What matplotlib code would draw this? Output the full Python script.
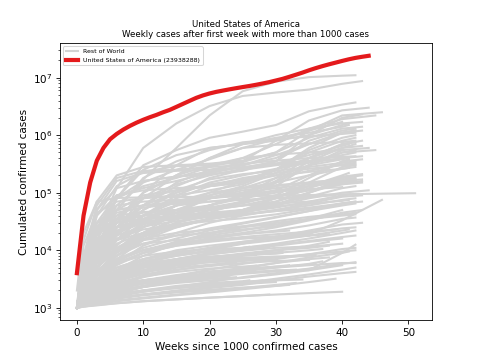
import matplotlib
matplotlib.use("Agg")
import matplotlib.pyplot as plt

# USA cumulated cases, one value per week since first week > 1000 cases
usa_label = "United States of America (23938288)"
usa_cases = [4.0e3, 4.0e4, 1.5e5, 3.6e5, 6.0e5, 8.5e5, 1.05e6, 1.25e6, 1.45e6, 1.65e6,
             1.85e6, 2.05e6, 2.25e6, 2.5e6, 2.75e6, 3.1e6, 3.5e6, 3.95e6, 4.45e6, 4.9e6,
             5.3e6, 5.65e6, 5.95e6, 6.25e6, 6.55e6, 6.85e6, 7.15e6, 7.5e6, 7.9e6, 8.35e6,
             8.9e6, 9.5e6, 1.03e7, 1.12e7, 1.22e7, 1.34e7, 1.46e7, 1.58e7, 1.7e7, 1.82e7,
             1.95e7, 2.08e7, 2.2e7, 2.3e7, 23938288]

# rest of world: values read at these weeks, last value is at the country's last week
anchor_weeks = [0, 1, 3, 6, 10, 15, 20, 25, 30, 35, 40]

high_last = [42, 43, 42, 44, 46, 43, 45, 40, 41, 42, 41, 43, 43, 42, 42, 42]
high_cases = [
    [1e3, 3e3, 1.1e4, 5e4, 1.7e5, 6e5, 2.2e6, 5.8e6, 8.5e6, 1.02e7, 1.08e7, 1.1e7],
    [1e3, 4e3, 2e4, 1.2e5, 6e5, 1.6e6, 3.2e6, 4.8e6, 5.5e6, 6.2e6, 7.8e6, 8.7e6],
    [1e3, 2.5e3, 1e4, 8e4, 3e5, 5.5e5, 9e5, 1.15e6, 1.5e6, 2.6e6, 3.4e6, 3.7e6],
    [1e3, 6e3, 5e4, 1.2e5, 1.6e5, 1.9e5, 2.3e5, 3.5e5, 8e5, 1.8e6, 2.7e6, 3.0e6],
    [1e3, 5e3, 4e4, 1.3e5, 2.3e5, 2.9e5, 3e5, 3.4e5, 5e5, 1.2e6, 2.2e6, 2.5e6],
    [1e3, 7e3, 5e4, 1.6e5, 2.2e5, 2.4e5, 2.5e5, 2.7e5, 3.5e5, 1e6, 2e6, 2.3e6],
    [1e3, 8e3, 6e4, 1.8e5, 2.4e5, 2.5e5, 2.8e5, 4e5, 7e5, 1.3e6, 1.9e6, 2.2e6],
    [1e3, 3e3, 1.5e4, 6e4, 1.5e5, 2.5e5, 3.8e5, 6e5, 8.5e5, 1.2e6, 1.7e6],
    [1e3, 4e3, 2e4, 8e4, 2.5e5, 4.5e5, 6e5, 7e5, 8e5, 1e6, 1.5e6, 1.6e6],
    [1e3, 3e3, 1.2e4, 5e4, 1.8e5, 3.5e5, 5.5e5, 7.5e5, 8.5e5, 9.5e5, 1.05e6, 1.1e6],
    [1e3, 2e3, 8e3, 3e4, 1e5, 3e5, 6e5, 7e5, 9e5, 1.1e6, 1.4e6, 1.5e6],
    [1e3, 3e3, 1e4, 3.5e4, 1e5, 2e5, 4e5, 7e5, 1e6, 1.3e6, 1.6e6, 1.7e6],
    [1e3, 5e3, 3e4, 9e4, 1.2e5, 1.6e5, 2.2e5, 3e5, 4.5e5, 7e5, 1.1e6, 1.2e6],
    [1e3, 3e3, 1.5e4, 8e4, 1.6e5, 1.9e5, 2.1e5, 2.4e5, 3.5e5, 8e5, 1.2e6, 1.3e6],
    [1e3, 4e3, 2.5e4, 8e4, 1.3e5, 1.8e5, 2.8e5, 3e5, 4e5, 7e5, 1.1e6, 1.2e6],
    [1e3, 2e3, 7e3, 2.5e4, 8e4, 2e5, 4e5, 6e5, 6.8e5, 7.2e5, 7.6e5, 8e5],
]

fast_last = [43, 42, 42, 41, 42, 40, 42, 43, 42, 41, 51]
fast_cases = [
    [1e3, 1.5e4, 7e4, 2e5, 2.8e5, 3e5, 3.2e5, 3.6e5, 5e5, 9e5, 1.3e6, 1.4e6],
    [1e3, 6e3, 4e4, 9e4, 1.1e5, 1.2e5, 1.3e5, 1.5e5, 2.5e5, 5.5e5, 9e5, 1e6],
    [1e3, 5e3, 3e4, 6e4, 7e4, 7.5e4, 8e4, 9e4, 1.3e5, 3e5, 5e5, 5.5e5],
    [1e3, 4e3, 2.5e4, 5e4, 6e4, 6.5e4, 7e4, 8e4, 1.1e5, 2e5, 3.5e5, 3.8e5],
    [1e3, 1.2e4, 4.5e4, 7e4, 8e4, 9e4, 1.1e5, 1.4e5, 2.5e5, 6e5, 1.1e6, 1.2e6],
    [1e3, 5e3, 2e4, 3e4, 3.5e4, 3.8e4, 4.2e4, 5e4, 7e4, 1.2e5, 1.8e5],
    [1e3, 3e3, 1.5e4, 3e4, 4e4, 4.5e4, 5e4, 6e4, 8e4, 1.5e5, 2.8e5, 3e5],
    [1e3, 4e3, 1.8e4, 3.5e4, 4.5e4, 5e4, 5.5e4, 6.5e4, 9e4, 1.8e5, 3.5e5, 3.8e5],
    [1e3, 6e3, 2.5e4, 4e4, 4.6e4, 5e4, 6e4, 9e4, 1.8e5, 4e5, 7e5, 7.5e5],
    [1e3, 3e3, 1.2e4, 2.5e4, 3.2e4, 3.6e4, 4e4, 4.5e4, 6e4, 1e5, 1.5e5, 1.6e5],
    [2e3, 2e4, 7e4, 8.1e4, 8.3e4, 8.4e4, 8.5e4, 8.7e4, 8.9e4, 9.1e4, 9.4e4, 9.8e4],
]

mid_last = [42, 41, 43, 40, 42, 44, 42, 43, 45, 41, 39, 42, 43, 42]
mid_cases = [
    [1e3, 4e3, 2e4, 5e4, 9e4, 1.1e5, 1.3e5, 1.6e5, 2.5e5, 5e5, 8e5, 9e5],
    [1e3, 3e3, 1.2e4, 3.5e4, 8e4, 1.4e5, 2e5, 2.6e5, 3.2e5, 4.5e5, 6.5e5, 7e5],
    [1e3, 5e3, 2.5e4, 4.5e4, 5.5e4, 6.5e4, 9e4, 1.3e5, 2.2e5, 4e5, 6e5, 6.5e5],
    [1e3, 2e3, 8e3, 3e4, 1e5, 2e5, 3e5, 4e5, 4.6e5, 5e5, 5.5e5],
    [1e3, 3e3, 1e4, 2.5e4, 5e4, 1e5, 1.8e5, 2.5e5, 3e5, 3.5e5, 4.5e5, 5e5],
    [1e3, 6e3, 3e4, 5e4, 6e4, 7e4, 8e4, 1e5, 1.5e5, 3e5, 5.5e5, 6e5],
    [1e3, 2.5e3, 9e3, 3e4, 6e4, 1.5e5, 2.5e5, 3.2e5, 3.6e5, 4e5, 4.2e5, 4.3e5],
    [1e3, 3e3, 1e4, 2e4, 3.5e4, 6e4, 1e5, 1.6e5, 2.5e5, 4e5, 7e5, 8e5],
    [1e3, 4e3, 1.5e4, 2.5e4, 3e4, 3.5e4, 4.5e4, 7e4, 1.5e5, 3e5, 5e5, 5.5e5],
    [1e3, 3e3, 1.3e4, 4e4, 8e4, 1.1e5, 1.3e5, 1.5e5, 2e5, 3e5, 3.8e5, 4e5],
    [1e3, 2e3, 6e3, 2e4, 6e4, 1.3e5, 2.2e5, 2.8e5, 3.2e5, 3.6e5, 3.8e5],
    [1e3, 5e3, 2e4, 3.5e4, 4e4, 4.5e4, 6e4, 9e4, 1.6e5, 3.5e5, 6e5, 7e5],
    [1e3, 2e3, 5e3, 1.5e4, 4e4, 9e4, 1.5e5, 2e5, 2.6e5, 3.3e5, 4e5, 4.3e5],
    [1e3, 3e3, 1.2e4, 2.5e4, 3.5e4, 5e4, 8e4, 1.2e5, 1.8e5, 2.4e5, 3.1e5, 3.3e5],
]

gradual_last = [42, 41, 43, 42, 40, 42, 43, 42, 41, 42, 38, 43, 42, 40, 42]
gradual_cases = [
    [1e3, 2e3, 5e3, 1.5e4, 4e4, 8e4, 1.3e5, 1.8e5, 2.2e5, 2.6e5, 3e5, 3.1e5],
    [1e3, 2.5e3, 8e3, 2.5e4, 6e4, 1e5, 1.4e5, 1.7e5, 2e5, 2.3e5, 2.6e5, 2.7e5],
    [1e3, 1.8e3, 4e3, 1e4, 2.5e4, 5e4, 8e4, 1e5, 1.2e5, 1.4e5, 1.6e5, 1.7e5],
    [1e3, 2e3, 6e3, 1.8e4, 5e4, 1.1e5, 1.7e5, 2.1e5, 2.4e5, 2.8e5, 3.3e5, 3.5e5],
    [1e3, 2e3, 7e3, 2e4, 4e4, 7e4, 1e5, 1.2e5, 1.35e5, 1.5e5, 1.7e5],
    [1e3, 1.5e3, 3.5e3, 8e3, 1.8e4, 3.5e4, 6e4, 9e4, 1.1e5, 1.3e5, 1.5e5, 1.6e5],
    [1e3, 2.5e3, 7e3, 1.5e4, 2.8e4, 4e4, 6e4, 8e4, 1e5, 1.3e5, 1.9e5, 2.1e5],
    [1e3, 3e3, 9e3, 1.8e4, 2.6e4, 3.2e4, 3.8e4, 4.6e4, 5.5e4, 7e4, 9e4, 9.5e4],
    [1e3, 2e3, 5e3, 1.1e4, 2e4, 3e4, 4e4, 5e4, 5.8e4, 6.5e4, 7.2e4, 7.5e4],
    [1e3, 1.7e3, 4e3, 9e3, 1.7e4, 2.6e4, 3.5e4, 4.2e4, 4.8e4, 5.5e4, 6.5e4, 7e4],
    [1e3, 2.2e3, 5e3, 1e4, 1.8e4, 2.7e4, 3.5e4, 4.2e4, 4.8e4, 5.3e4, 5.6e4],
    [1e3, 1.5e3, 3e3, 6e3, 1.2e4, 2e4, 3e4, 4e4, 5e4, 6.5e4, 8.5e4, 9e4],
    [1e3, 2e3, 4.5e3, 8e3, 1.3e4, 1.8e4, 2.4e4, 3e4, 3.8e4, 4.8e4, 6e4, 6.5e4],
    [1e3, 1.6e3, 3e3, 5.5e3, 9e3, 1.4e4, 2e4, 2.6e4, 3.2e4, 3.8e4, 4.3e4],
    [1e3, 2.8e3, 8e3, 1.6e4, 2.3e4, 2.8e4, 3.2e4, 3.6e4, 4.2e4, 5.2e4, 6.5e4, 7e4],
]

lower_mid_last = [42, 41, 43, 40, 42, 46, 43, 42, 44, 39, 42, 43, 42, 36]
lower_mid_cases = [
    [1e3, 2e3, 6e3, 1.5e4, 3e4, 6e4, 9e4, 1.2e5, 1.5e5, 2e5, 2.6e5, 2.8e5],
    [1e3, 3e3, 8e3, 1.5e4, 2e4, 2.5e4, 3.5e4, 5e4, 8e4, 1.3e5, 2e5, 2.2e5],
    [1e3, 2e3, 4e3, 8e3, 1.5e4, 3e4, 5e4, 7e4, 9e4, 1.1e5, 1.4e5, 1.5e5],
    [1e3, 1.8e3, 5e3, 1.2e4, 3e4, 6e4, 8e4, 9.5e4, 1.05e5, 1.15e5, 1.25e5],
    [1e3, 3e3, 9e3, 2e4, 3e4, 3.5e4, 4e4, 4.5e4, 6e4, 1e5, 1.6e5, 1.8e5],
    [1e3, 2e3, 4e3, 7e3, 1e4, 1.3e4, 1.5e4, 1.6e4, 1.7e4, 1.9e4, 3.3e4, 7.5e4],
    [1e3, 2.5e3, 7e3, 1.5e4, 2.5e4, 4e4, 5.5e4, 7e4, 8.5e4, 1.1e5, 1.4e5, 1.6e5],
    [1e3, 1.5e3, 3e3, 7e3, 1.5e4, 2.5e4, 3.5e4, 5e4, 6.5e4, 8.5e4, 1.2e5, 1.3e5],
    [1e3, 4e3, 1.3e4, 2.5e4, 3.5e4, 4e4, 4.5e4, 5e4, 6e4, 8e4, 1e5, 1.1e5],
    [1e3, 2e3, 6e3, 1.8e4, 4e4, 6e4, 7e4, 7.5e4, 8e4, 8.5e4, 9e4],
    [1e3, 2.2e3, 6e3, 1.3e4, 2e4, 2.8e4, 3.5e4, 4.2e4, 5e4, 6e4, 7.5e4, 8e4],
    [1e3, 3e3, 1e4, 2.2e4, 3.3e4, 4.4e4, 5.5e4, 6e4, 7e4, 1e5, 1.8e5, 2e5],
    [1e3, 2e3, 4e3, 9e3, 2e4, 4.5e4, 8e4, 1.1e5, 1.3e5, 1.5e5, 1.7e5, 1.8e5],
    [1e3, 2e3, 5e3, 1e4, 2e4, 3.5e4, 5e4, 6e4, 6.5e4, 7e4, 7.2e4],
]

lower_last = [43, 39, 42, 42, 40, 41, 38, 43, 35, 42, 32, 42, 43, 42, 30, 26]
lower_cases = [
    [1e3, 1.5e3, 2.5e3, 4e3, 6e3, 8e3, 1e4, 1.3e4, 1.7e4, 2.2e4, 2.8e4, 3e4],
    [1e3, 1.5e3, 3e3, 6e3, 9e3, 1.2e4, 1.5e4, 1.7e4, 1.9e4, 2.1e4, 2.3e4],
    [1e3, 1.3e3, 1.8e3, 2.3e3, 2.8e3, 3.2e3, 3.6e3, 4e3, 4.5e3, 4.5e3, 9e3, 1.25e4],
    [1e3, 2e3, 4e3, 7e3, 1e4, 1.4e4, 1.8e4, 2.2e4, 2.8e4, 3.5e4, 4.2e4, 4.5e4],
    [1e3, 2e3, 5e3, 1e4, 1.5e4, 1.8e4, 2e4, 2.3e4, 2.6e4, 3.5e4, 5e4],
    [1e3, 1.6e3, 3e3, 5e3, 7e3, 9e3, 1.1e4, 1.3e4, 1.5e4, 1.8e4, 2.2e4, 2.3e4],
    [1e3, 1.4e3, 2.5e3, 4.5e3, 7e3, 1e4, 1.2e4, 1.4e4, 1.6e4, 1.8e4, 1.9e4],
    [1e3, 2.5e3, 6e3, 1e4, 1.3e4, 1.5e4, 1.7e4, 2e4, 2.5e4, 3.3e4, 4.5e4, 5e4],
    [1e3, 1.8e3, 3.5e3, 6e3, 9e3, 1.2e4, 1.4e4, 1.6e4, 1.75e4, 1.8e4],
    [1e3, 1.2e3, 1.8e3, 3e3, 5e3, 7e3, 9e3, 1.1e4, 1.3e4, 1.6e4, 2e4, 2.2e4],
    [1e3, 2e3, 4e3, 7e3, 1e4, 1.3e4, 1.6e4, 1.9e4, 2.1e4, 2.2e4],
    [1e3, 1.4e3, 2.5e3, 4.5e3, 8e3, 1.3e4, 1.9e4, 2.5e4, 3e4, 3.5e4, 4e4, 4.2e4],
    [1e3, 2e3, 4e3, 7e3, 1.1e4, 1.6e4, 2.2e4, 2.9e4, 3.7e4, 4.8e4, 6.5e4, 7e4],
    [1e3, 1.7e3, 3.5e3, 6.5e3, 1e4, 1.3e4, 1.6e4, 1.9e4, 2.2e4, 2.7e4, 3.5e4, 3.7e4],
    [1e3, 2.5e3, 6e3, 1.1e4, 1.6e4, 2e4, 2.3e4, 2.6e4, 2.8e4],
    [1e3, 2e3, 4e3, 6e3, 8e3, 9.5e3, 1.05e4, 1.1e4, 1.15e4],
]

small_last = [42, 40, 37, 42, 34, 42, 29, 41, 38, 42, 27, 32, 36, 24, 20]
small_cases = [
    [1e3, 1.3e3, 2.2e3, 3.8e3, 6e3, 8.5e3, 1.1e4, 1.4e4, 1.7e4, 2e4, 2.4e4, 2.5e4],
    [1e3, 1.4e3, 2.4e3, 3.6e3, 5e3, 6.3e3, 7.5e3, 8.8e3, 1e4, 1.15e4, 1.3e4],
    [1e3, 1.2e3, 1.7e3, 2.5e3, 3.6e3, 5e3, 6.5e3, 8e3, 9e3, 1e4, 1.05e4],
    [1e3, 1.6e3, 2.8e3, 4.5e3, 6.5e3, 8e3, 9.5e3, 1.1e4, 1.25e4, 1.45e4, 1.7e4, 1.8e4],
    [1e3, 1.5e3, 2.6e3, 4e3, 5.5e3, 7e3, 8.5e3, 9.8e3, 1.1e4, 1.15e4],
    [1e3, 1.2e3, 1.6e3, 2.1e3, 2.8e3, 3.6e3, 4.6e3, 5.8e3, 7e3, 8.5e3, 1.05e4, 1.1e4],
    [1e3, 1.8e3, 3.2e3, 5e3, 7e3, 8.5e3, 9.5e3, 1.05e4, 1.1e4],
    [1e3, 1.1e3, 1.4e3, 1.8e3, 2.3e3, 3e3, 3.8e3, 4.8e3, 6e3, 7.5e3, 9e3, 9.5e3],
    [1e3, 1.3e3, 2e3, 3e3, 4.2e3, 5.5e3, 7e3, 8.5e3, 1e4, 1.2e4, 1.4e4],
    [1e3, 1.15e3, 1.35e3, 1.6e3, 1.9e3, 2.3e3, 2.8e3, 3.4e3, 4e3, 4.8e3, 5.8e3, 6.2e3],
    [1e3, 1.3e3, 1.9e3, 2.7e3, 3.5e3, 4.2e3, 4.8e3, 5.2e3, 5.4e3],
    [1e3, 1.1e3, 1.25e3, 1.45e3, 1.65e3, 1.85e3, 2.05e3, 2.25e3, 2.4e3, 2.5e3],
    [1e3, 1.25e3, 1.7e3, 2.3e3, 3e3, 3.7e3, 4.3e3, 4.8e3, 5.2e3, 5.6e3, 5.8e3],
    [1e3, 1.4e3, 2.2e3, 3.2e3, 4.2e3, 5e3, 5.6e3, 6e3],
    [1e3, 1.5e3, 2.5e3, 4e3, 5.5e3, 6.5e3, 7e3],
]

tiny_last = [33, 28, 36, 31, 24, 39, 30, 42, 26, 35, 29, 38, 23, 40, 32, 21, 34, 42, 27, 37]
tiny_cases = [
    [1e3, 1.1e3, 1.2e3, 1.35e3, 1.5e3, 1.7e3, 1.9e3, 2.2e3, 2.5e3, 2.7e3],
    [1e3, 1.2e3, 1.4e3, 1.6e3, 1.9e3, 2.2e3, 2.5e3, 2.8e3, 3e3],
    [1e3, 1.3e3, 1.6e3, 2e3, 2.4e3, 2.9e3, 3.4e3, 3.9e3, 4.3e3, 4.7e3, 5e3],
    [1e3, 1.2e3, 1.9e3, 3e3, 4.5e3, 6e3, 7.5e3, 8.5e3, 9.2e3, 9.5e3],
    [1e3, 1.15e3, 1.4e3, 1.8e3, 2.3e3, 2.8e3, 3.2e3, 3.4e3],
    [1e3, 1.05e3, 1.15e3, 1.3e3, 1.45e3, 1.65e3, 1.85e3, 2.1e3, 2.4e3, 2.8e3, 3.2e3],
    [1e3, 1.4e3, 2.2e3, 3.3e3, 4.5e3, 5.5e3, 6.2e3, 6.6e3, 6.8e3],
    [1e3, 1.25e3, 1.7e3, 2.4e3, 3.4e3, 4.5e3, 5.5e3, 6.5e3, 7.5e3, 8.5e3, 9.5e3, 1e4],
    [1e3, 1.1e3, 1.3e3, 1.6e3, 2e3, 2.4e3, 2.7e3, 2.9e3, 3e3],
    [1e3, 1.5e3, 2.2e3, 3e3, 3.8e3, 4.6e3, 5.3e3, 6e3, 6.5e3, 6.8e3],
    [1e3, 1.05e3, 1.12e3, 1.2e3, 1.3e3, 1.4e3, 1.5e3, 1.6e3, 1.7e3],
    [1e3, 1.3e3, 1.9e3, 2.8e3, 4e3, 5.5e3, 7e3, 8.5e3, 1e4, 1.1e4, 1.2e4],
    [1e3, 1.3e3, 1.7e3, 2.2e3, 2.7e3, 3.1e3, 3.4e3, 3.6e3],
    [1e3, 1.5e3, 2.6e3, 4e3, 5.5e3, 7e3, 8.5e3, 1e4, 1.2e4, 1.4e4, 1.6e4],
    [1e3, 1.2e3, 1.5e3, 1.9e3, 2.4e3, 3e3, 3.7e3, 4.5e3, 5.2e3, 5.5e3],
    [1e3, 1.2e3, 1.6e3, 2.1e3, 2.6e3, 3e3, 3.3e3, 3.4e3],
    [1e3, 1.6e3, 2.6e3, 3.8e3, 5e3, 6e3, 6.8e3, 7.4e3, 7.8e3, 8e3],
    [1e3, 1.1e3, 1.25e3, 1.45e3, 1.7e3, 2e3, 2.3e3, 2.7e3, 3.2e3, 3.8e3, 4.6e3, 5e3],
    [1e3, 1.6e3, 2.8e3, 4.2e3, 5.6e3, 6.8e3, 7.6e3, 8.1e3, 8.3e3],
    [1e3, 1.15e3, 1.4e3, 1.8e3, 2.3e3, 2.9e3, 3.6e3, 4.3e3, 5e3, 5.8e3, 6.4e3],
]

low_last = [40, 42, 30, 33, 38, 28, 25, 42, 36, 22, 40, 31, 34]
low_cases = [
    [1e3, 1.05e3, 1.1e3, 1.2e3, 1.3e3, 1.4e3, 1.5e3, 1.6e3, 1.7e3, 1.8e3, 1.9e3],
    [1e3, 1.3e3, 1.8e3, 2.5e3, 3e3, 3.5e3, 4e3, 4.5e3, 5e3, 5.5e3, 6e3, 6e3],
    [1e3, 1.2e3, 1.5e3, 1.8e3, 2e3, 2.2e3, 2.4e3, 2.6e3, 2.8e3],
    [1e3, 1.4e3, 2e3, 2.6e3, 3e3, 3.4e3, 3.8e3, 4.1e3, 4.4e3, 4.6e3],
    [1e3, 1.2e3, 1.6e3, 2.2e3, 2.8e3, 3.3e3, 4e3, 5e3, 6e3, 7e3, 7.5e3],
    [1e3, 1.5e3, 2.5e3, 3.5e3, 4.5e3, 5.5e3, 6.2e3, 6.8e3, 7e3],
    [1e3, 1.3e3, 1.8e3, 2.4e3, 3e3, 3.5e3, 3.8e3, 4e3],
    [1e3, 1.1e3, 1.3e3, 1.5e3, 1.7e3, 1.9e3, 2.2e3, 2.5e3, 3e3, 3.5e3, 4e3, 4.2e3],
    [1e3, 1.6e3, 2.8e3, 4e3, 5e3, 5.8e3, 6.5e3, 7e3, 7.5e3, 8e3, 8.2e3],
    [1e3, 1.1e3, 1.3e3, 1.5e3, 1.7e3, 1.9e3, 2e3, 2.1e3],
    [1e3, 1.2e3, 1.5e3, 1.9e3, 2.3e3, 2.7e3, 3e3, 3.3e3, 3.8e3, 4.5e3, 5.5e3],
    [1e3, 1.7e3, 3e3, 4.5e3, 6e3, 7e3, 7.8e3, 8.3e3, 8.7e3, 9e3],
    [1e3, 1.1e3, 1.4e3, 1.7e3, 2e3, 2.3e3, 2.6e3, 2.8e3, 3e3, 3.1e3],
]

groups = [(high_last, high_cases), (fast_last, fast_cases), (mid_last, mid_cases),
          (gradual_last, gradual_cases), (lower_mid_last, lower_mid_cases),
          (lower_last, lower_cases), (small_last, small_cases),
          (tiny_last, tiny_cases), (low_last, low_cases)]

fig, ax = plt.subplots(figsize=(6.4, 4.8), dpi=75)

first = True
for last_weeks, cases_list in groups:
    for last, cases in zip(last_weeks, cases_list):
        weeks = [w for w in anchor_weeks if w < last] + [last]
        ax.plot(weeks, cases, color="lightgrey", lw=2,
                label="Rest of World" if first else None)
        first = False

ax.plot(range(len(usa_cases)), usa_cases, color="#e41a1c", lw=4, label=usa_label)

ax.set_yscale("log")
ax.set_xlabel("Weeks since 1000 confirmed cases")
ax.set_ylabel("Cumulated confirmed cases")
ax.set_title("United States of America\nWeekly cases after first week with more than 1000 cases",
             fontsize=8.3)
ax.legend(loc="upper left", fontsize=6)

fig.savefig("out.png")
